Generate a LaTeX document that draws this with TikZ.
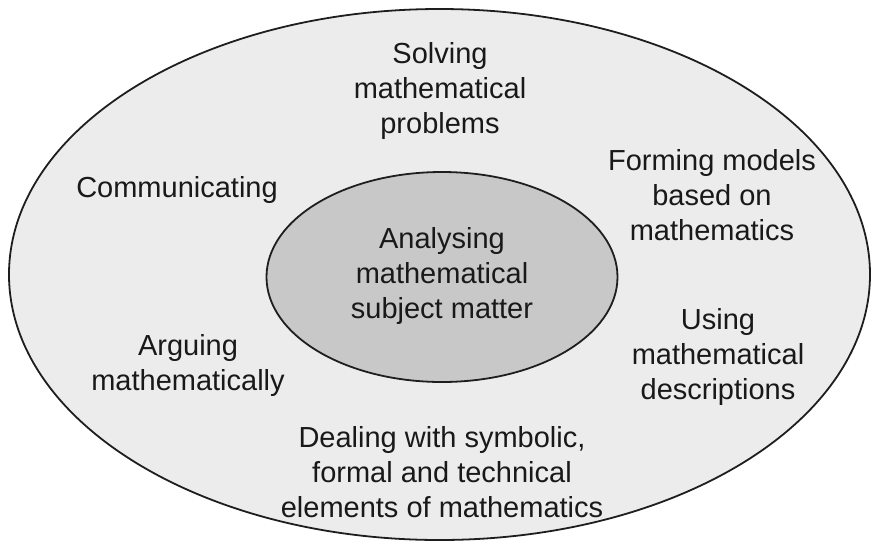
\documentclass[tikz,border=0pt]{standalone}
\usepackage{fontspec}
\setmainfont{Liberation Sans}
\usetikzlibrary{shapes.geometric}
\definecolor{outerfill}{HTML}{ECECEC}
\definecolor{innerfill}{HTML}{C8C8C8}
\definecolor{rim}{HTML}{1E1E1E}
\begin{document}
\begin{tikzpicture}[x=1pt,y=-1pt,
  area/.style={ellipse,draw=rim,line width=1.8pt,inner sep=0pt},
  label/.style={align=center,inner sep=0pt,text=black!90,
    font=\fontsize{29}{35}\selectfont}]
  \useasboundingbox (0,0) rectangle (871,542);
  % outer field and central core
  \node[area,fill=outerfill,minimum width=861pt,minimum height=531pt] (outer) at (439.5,274.5) {};
  \node[area,fill=innerfill,minimum width=351pt,minimum height=210pt] (core) at (442,277) {};
  % competencies
  \node[label] (core-text) at (442,276) {Analysing\\mathematical\\subject matter};
  \node[label] (solving) at (440,91) {Solving\\mathematical\\problems};
  \node[label] (communicating) at (177,190) {Communicating};
  \node[label] (models) at (712,195) {Forming models\\based on\\mathematics};
  \node[label] (arguing) at (188,365) {Arguing\\mathematically};
  \node[label] (descriptions) at (718,357) {Using\\mathematical\\descriptions};
  \node[label] (symbolic) at (442,472) {Dealing with symbolic,\\formal and technical\\elements of mathematics};
\end{tikzpicture}
\end{document}
